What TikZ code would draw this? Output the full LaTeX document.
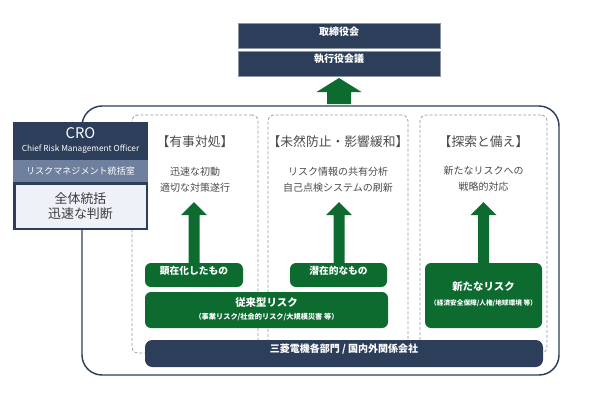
\documentclass[tikz,border=0pt]{standalone}
\usepackage{fontspec}
\setmainfont{Noto Sans CJK JP}
\usetikzlibrary{fit,calc}
\definecolor{navy}{HTML}{2C3E5A}
\definecolor{slate}{HTML}{6E809D}
\definecolor{paleblue}{HTML}{EEF1F8}
\definecolor{rgreen}{HTML}{0E6B30}
\definecolor{dgray}{HTML}{9A9A9A}
\definecolor{tgray}{HTML}{4A4A4A}
\newcommand\blockup[6]{\fill[rgreen] ({#1-#5},#6) -- ({#1-#5},#3) -- ({#1-#4},#3) -- (#1,#2) -- ({#1+#4},#3) -- ({#1+#5},#3) -- ({#1+#5},#6) -- cycle;}
\begin{document}
\begin{tikzpicture}[x=0.75pt,y=-0.75pt,
  tight/.style={inner sep=0pt, outer sep=0pt},
  topbox/.style={tight, fill=navy, draw=navy!55, line width=0.4pt, text=white, font=\fontsize{7.5}{9}\selectfont\bfseries},
  colbox/.style={tight, draw=dgray, line width=0.6pt, dash pattern=on 2.2pt off 1.5pt, rounded corners=4.5pt},
  greenbox/.style={tight, fill=rgreen, rounded corners=4.5pt, text=white, align=center},
  heading/.style={text=tgray, font=\fontsize{9.6}{11}\selectfont},
  subtext/.style={text=tgray, align=center, font=\fontsize{7.5}{12}\selectfont},
  lbl/.style={font=\fontsize{7.3}{9}\selectfont\bfseries},
]
\useasboundingbox (0,0) rectangle (607,401);

% top boxes
\node[topbox, fit={(238,23) (440,48)}] (board) {取締役会};
\node[topbox, fit={(238,51) (440,76)}] (exec) {執行役会議};

% outer frame
\node[tight, fit={(82,106) (559,375)}, draw=navy, line width=1.1pt, rounded corners=15pt] (frame) {};

% top arrow
\blockup{339}{78}{92}{22.5}{12}{104}

% dashed columns
\node[colbox, fit={(132,115) (258,353)}] (col1) {};
\node[colbox, fit={(268,115) (408,353)}] (col2) {};
\node[colbox, fit={(420,115) (547,353)}] (col3) {};

% headings
\node[heading] (h1) at (195,142) {【有事対処】};
\node[heading] (h2) at (338,142) {【未然防止・影響緩和】};
\node[heading] (h3) at (483.5,142) {【探索と備え】};

\node[subtext] (s1) at (195,180) {迅速な初動\\適切な対策遂行};
\node[subtext] (s2) at (338,180) {リスク情報の共有分析\\自己点検システムの刷新};
\node[subtext] (s3) at (483.5,179) {新たなリスクへの\\戦略的対応};

% column arrows
\blockup{194}{202}{215}{13}{5.5}{263}
\blockup{339}{202}{215}{13}{5.5}{263}
\blockup{483.5}{202}{215}{13}{5.5}{263}

% green boxes
\node[greenbox, fit={(145,263) (243,287)}, lbl] (g1) {顕在化したもの};
\node[greenbox, fit={(290,263) (387,287)}, lbl] (g2) {潜在的なもの};
\node[greenbox, fit={(145,292) (388,328)}] (g3) {};
\node[text=white, font=\fontsize{7.8}{9}\selectfont\bfseries] (g3t) at (266.5,302.5) {従来型リスク};
\node[text=white, font=\fontsize{5.4}{7}\selectfont\bfseries] (g3s) at (266.5,317) {（事業リスク/社会的リスク/大規模災害 等）};
\node[greenbox, fit={(425,263) (542,328)}] (g4) {};
\node[text=white, font=\fontsize{7.8}{9}\selectfont\bfseries] (g4t) at (483.5,287) {新たなリスク};
\node[text=white, font=\fontsize{5}{7}\selectfont\bfseries] (g4s) at (483.5,303) {（経済安全保障/人権/地球環境 等）};

% bottom bar
\node[tight, fit={(145,340) (543,367)}, fill=navy, rounded corners=5.5pt, text=white, font=\fontsize{7.5}{9}\selectfont\bfseries] (bar) {三菱電機各部門 / 国内外関係会社};

% CRO box
\node[tight, fit={(13,122) (148,230)}, fill=navy] (cro) {};
\node[tight, fit={(13,160) (148,182)}, fill=slate] (band) {};
\node[tight, fit={(15.5,184.5) (145.5,227.5)}, fill=paleblue] (light) {};
\node[text=white, font=\fontsize{11}{13}\selectfont] (crot) at (80.5,133.5) {CRO};
\node[text=white, font=\fontsize{6.2}{8}\selectfont] (crosub) at (80.5,149) {Chief Risk Management Officer};
\node[text=white, font=\fontsize{6.8}{8}\selectfont] (bandt) at (band.center) {リスクマネジメント統括室};
\node[text=tgray!80!black, align=center, font=\fontsize{9.7}{11.5}\selectfont] (lightt) at (light.center) {全体統括\\迅速な判断};
\end{tikzpicture}
\end{document}
